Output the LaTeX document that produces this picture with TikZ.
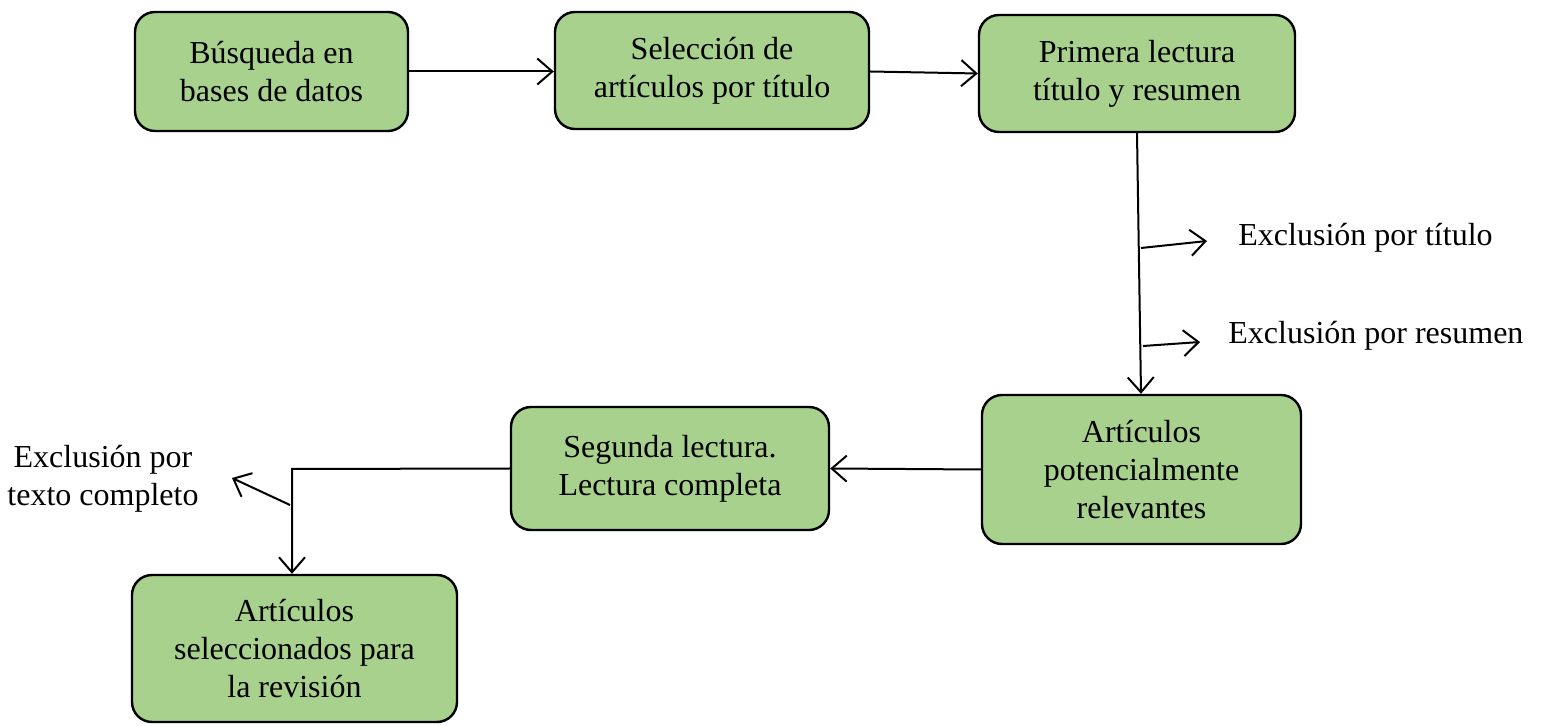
\documentclass[tikz,border=0pt]{standalone}
\usepackage{fontspec}
\setmainfont{Liberation Serif}
\usepackage{tikz}
\usetikzlibrary{
  	positioning,
  	arrows.meta,
  	calc
  }
\definecolor{boxgreen}{HTML}{A9D18E}
\tikzstyle{caja}=[draw,fill=boxgreen,line width=1.2pt,rounded corners=10pt,align=center,font=\fontsize{16}{19}\selectfont]
\tikzstyle{flecha}=[line width=1pt,-{Straight Barb[length=7.5pt,width=13pt,line width=1pt]}]
\tikzstyle{etiq}=[align=center,inner sep=0pt,font=\fontsize{16}{19}\selectfont]

\begin{document}
\begin{tikzpicture}[x=0.5pt,y=-0.5pt]
\useasboundingbox (0,0) rectangle (1541,726);
\node[caja,minimum width=136.5pt,minimum height=59.5pt] (a) at (271.5,71.5) {Búsqueda en\\bases de datos};
\node[caja,minimum width=157pt,minimum height=58.5pt] (b) at (712,70.5) {Selección de\\artículos por título};
\node[caja,minimum width=158pt,minimum height=58.5pt] (c) at (1137,73.5) {Primera lectura\\título y resumen};
\node[caja,minimum width=159.5pt,minimum height=74.5pt] (d) at (1141.5,469.5) {Artículos\\potencialmente\\relevantes};
\node[caja,minimum width=159pt,minimum height=61.5pt] (e) at (670,468.5) {Segunda lectura.\\Lectura completa};
\node[caja,minimum width=162.5pt,minimum height=73.5pt] (f) at (294.5,648.5) {Artículos\\seleccionados para\\la revisión};
% exclusiones
\node[etiq,anchor=west] (x1) at (1238,238) {Exclusión por título};
\node[etiq,anchor=west] (x2) at (1228,336) {Exclusión por resumen};
\node[etiq] (x3) at (103,479) {Exclusión por\\texto completo};
\coordinate (p1) at (1141,248);
\coordinate (q1) at (1207,241);
\coordinate (p2) at (1143,346);
\coordinate (q2) at (1200,342);
\coordinate (p3) at (290,505);
\coordinate (q3) at (232,478);
\coordinate (k) at (292,469);
\draw[flecha] (a.east) -- ($(b.west)+(0,1)$);
\draw[flecha] ($(b.east)+(0,1)$) -- (c.west);
\draw[flecha] (c.south) -- ($(d.north)+(-0.5,0)$);
\draw[flecha] (p1) -- (q1);
\draw[flecha] (p2) -- (q2);
\draw[flecha] (d.west) -- (e.east);
\draw[flecha] (e.west) -- (k) -- (k |- f.north);
\draw[flecha] (p3) -- (q3);
\end{tikzpicture}
\end{document}
